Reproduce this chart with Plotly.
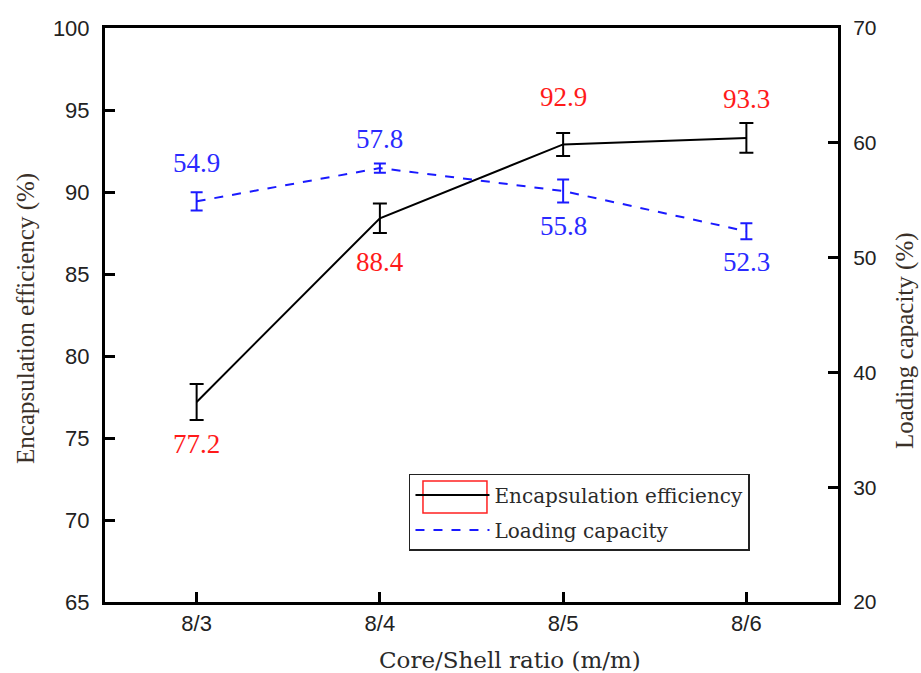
import plotly.graph_objects as go

categories = ["8/3", "8/4", "8/5", "8/6"]
ee_values = [77.2, 88.4, 92.9, 93.3]
ee_errors = [1.1, 0.9, 0.7, 0.9]
lc_values = [54.9, 57.8, 55.8, 52.3]
lc_errors = [0.8, 0.4, 1.0, 0.7]

ee_label_shift = [-42, -44, 47, 39]
lc_label_shift = [38, 29, -35, -31]

SERIF = "Liberation Serif"
WIDE_SERIF = "DejaVu Serif"
SANS = "Liberation Sans"

fig = go.Figure()
fig.add_trace(go.Scatter(
    x=categories, y=ee_values, mode="lines", name="Encapsulation efficiency",
    line=dict(color="black", width=2), legendgroup="a",
    error_y=dict(type="data", array=ee_errors, color="black", thickness=2, width=7),
    yaxis="y",
))
fig.add_trace(go.Scatter(
    x=categories, y=lc_values, mode="lines", name="Loading capacity",
    line=dict(color="#1a1aff", width=2, dash="dash"), legendgroup="b",
    error_y=dict(type="data", array=lc_errors, color="#1a1aff", thickness=2, width=6),
    yaxis="y2",
))

for c, v, s in zip(categories, ee_values, ee_label_shift):
    fig.add_annotation(x=c, y=v, yref="y", xref="x", text=f"{v:.1f}", showarrow=False,
                       yshift=s, font=dict(family=SERIF, size=27, color="#ff1a1a"))
for c, v, s in zip(categories, lc_values, lc_label_shift):
    fig.add_annotation(x=c, y=v, yref="y2", xref="x", text=f"{v:.1f}", showarrow=False,
                       yshift=s, font=dict(family=SERIF, size=27, color="#2a2aff"))

# axis titles placed as in the reference
fig.add_annotation(text="Core/Shell ratio (m/m)", xref="paper", yref="paper",
                   x=0.5525, y=-0.101, xanchor="center", yanchor="middle", showarrow=False,
                   font=dict(family=WIDE_SERIF, size=23, color="#2a2a2a"))
fig.add_annotation(text="Encapsulation efficiency (%)", xref="paper", yref="paper",
                   x=-0.1078, y=0.4948, xanchor="center", yanchor="middle", showarrow=False,
                   textangle=-90, font=dict(family=SERIF, size=25, color="#3a3028"))
fig.add_annotation(text="Loading capacity (%)", xref="paper", yref="paper",
                   x=1.0914, y=0.4564, xanchor="center", yanchor="middle", showarrow=False,
                   textangle=-90, font=dict(family=SERIF, size=25, color="#3a3028"))

# red frame around the first legend symbol (as in the reference)
fig.add_shape(type="rect", xref="paper", yref="paper", layer="above",
              x0=0.4338, x1=0.5211, y0=0.155, y1=0.2108,
              line=dict(color="#ff2020", width=1.5))

fig.update_layout(
    width=921, height=673,
    margin=dict(l=105, r=83, t=28, b=71),
    paper_bgcolor="white", plot_bgcolor="white",
    showlegend=True,
    legend=dict(x=0.4147, y=0.2230, xanchor="left", yanchor="top",
                bordercolor="#222", borderwidth=1.5, bgcolor="rgba(255,255,255,0)",
                font=dict(family=WIDE_SERIF, size=20, color="#2a2a2a"),
                itemwidth=74, traceorder="grouped", tracegroupgap=6),
    xaxis=dict(
        type="category", range=[-0.5, 3.5],
        showline=True, linecolor="black", linewidth=3, mirror=True,
        ticks="inside", ticklen=10, tickwidth=2.5, tickcolor="black",
        showgrid=False, zeroline=False, ticklabelstandoff=0,
        tickfont=dict(family=SANS, size=22, color="#222"),
    ),
    yaxis=dict(
        range=[65, 100], dtick=5, tick0=65,
        showline=True, linecolor="black", linewidth=3, mirror=True,
        ticks="inside", ticklen=10, tickwidth=2.5, tickcolor="black",
        showgrid=False, zeroline=False, ticklabelstandoff=8,
        tickfont=dict(family=SANS, size=22, color="#222"),
    ),
    yaxis2=dict(
        range=[20, 70], dtick=10, tick0=20, overlaying="y", side="right",
        showline=True, linecolor="black", linewidth=3,
        ticks="inside", ticklen=10, tickwidth=2.5, tickcolor="black",
        showgrid=False, zeroline=False, ticklabelstandoff=8,
        tickfont=dict(family=SANS, size=21, color="#222"),
    ),
)

fig.write_html("out.html")
